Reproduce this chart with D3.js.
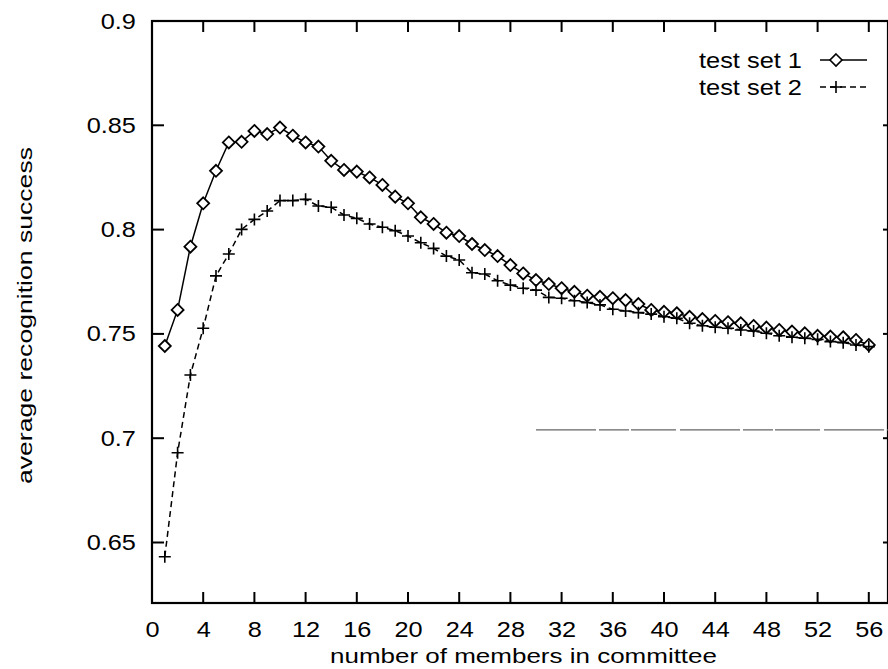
<!DOCTYPE html>
<html>
<script src="https://cdnjs.cloudflare.com/ajax/libs/d3/7.8.5/d3.min.js"></script>
<head>
  <meta charset="UTF-8">
  <title>committee recognition</title>
  <style type="text/css">
    body { margin: 0; background: #fff; }
    svg text { font-family: "Liberation Sans", Arial, Helvetica, sans-serif; fill: #000; }
  </style>
</head>
<body>
<script type="text/javascript">

  //DATA
  var members = d3.range(1, 57); //committee size 1..56

  var testSet1 = [0.7442, 0.7615, 0.7918, 0.8126, 0.8282, 0.8418, 0.8421, 0.8473, 0.8458, 0.8489,
                  0.8450, 0.8418, 0.8398, 0.8330, 0.8286, 0.8278, 0.8250, 0.8214, 0.8158, 0.8126,
                  0.8059, 0.8027, 0.7985, 0.7969, 0.7931, 0.7902, 0.7873, 0.7830, 0.7790, 0.7758,
                  0.7739, 0.7719, 0.7702, 0.7683, 0.7678, 0.7671, 0.7662, 0.7643, 0.7615, 0.7606,
                  0.7599, 0.7582, 0.7571, 0.7562, 0.7556, 0.7551, 0.7538, 0.7530, 0.7519, 0.7511,
                  0.7503, 0.7491, 0.7487, 0.7484, 0.7471, 0.7447];

  var testSet2 = [0.6432, 0.6930, 0.7303, 0.7527, 0.7778, 0.7883, 0.8001, 0.8049, 0.8089, 0.8139,
                  0.8139, 0.8145, 0.8113, 0.8107, 0.8070, 0.8054, 0.8027, 0.8011, 0.7995, 0.7969,
                  0.7937, 0.7910, 0.7873, 0.7854, 0.7793, 0.7787, 0.7755, 0.7734, 0.7719, 0.7710,
                  0.7675, 0.7671, 0.7659, 0.7650, 0.7639, 0.7618, 0.7610, 0.7602, 0.7595, 0.7582,
                  0.7575, 0.7551, 0.7539, 0.7532, 0.7527, 0.7519, 0.7514, 0.7503, 0.7491, 0.7484,
                  0.7479, 0.7474, 0.7463, 0.7458, 0.7447, 0.7439];

  var baseX = [30, 58];
  var baseY = [0.704, 0.704];

  var xTicks = [0, 4, 8, 12, 16, 20, 24, 28, 32, 36, 40, 44, 48, 52, 56];
  var yTicks = [0.65, 0.7, 0.75, 0.8, 0.85, 0.9];
  var seriesNames = ["test set 1", "test set 2"];

  //SVG SIZE AND PLOT BOX ("top" is taken by window, so p-prefixed names)
  var W = 888, H = 669;
  var pLeft = 152, pRight = 888, pTop = 21, pBottom = 603;
  var stretch = "scale(1.15,1)"; //reference font is drawn wider than Liberation Sans

  var x = d3.scaleLinear().domain([0, 57.5]).range([pLeft, pRight]);
  var y = d3.scaleLinear().domain([0.621, 0.9]).range([pBottom, pTop]);

  var svg = d3.select("body").append("svg")
      .attr("width", W)
      .attr("height", H);

  //FRAME
  svg.append("rect")
      .attr("x", pLeft).attr("y", pTop)
      .attr("width", pRight - pLeft).attr("height", pBottom - pTop)
      .attr("fill", "none").attr("stroke", "#000").attr("stroke-width", 2.2);

  //AXES - only the labels come from d3, ticks are drawn inwards below
  var xAxis = d3.axisBottom(x).tickValues(xTicks).tickSize(0).tickPadding(18).tickFormat(d3.format("d"));
  var gx = svg.append("g").attr("transform", "translate(0," + pBottom + ")").call(xAxis);
  gx.select(".domain").remove();
  gx.selectAll("text").style("font-size", "22px").attr("transform", stretch);

  var yAxis = d3.axisLeft(y).tickValues(yTicks).tickSize(0).tickPadding(14)
      .tickFormat(function (d) { return String(+d.toFixed(2)); });
  var gy = svg.append("g").attr("transform", "translate(" + pLeft + ",0)").call(yAxis);
  gy.select(".domain").remove();
  gy.selectAll("text").style("font-size", "22px").attr("transform", stretch);

  var tickLen = 11;
  xTicks.slice(1).forEach(function (t) {
    svg.append("line").attr("x1", x(t)).attr("x2", x(t)).attr("y1", pBottom).attr("y2", pBottom - tickLen)
        .attr("stroke", "#000").attr("stroke-width", 2);
    svg.append("line").attr("x1", x(t)).attr("x2", x(t)).attr("y1", pTop).attr("y2", pTop + tickLen)
        .attr("stroke", "#000").attr("stroke-width", 2);
  });
  yTicks.forEach(function (t) {
    svg.append("line").attr("x1", pLeft).attr("x2", pLeft + 12).attr("y1", y(t)).attr("y2", y(t))
        .attr("stroke", "#000").attr("stroke-width", 2);
    svg.append("line").attr("x1", pRight).attr("x2", pRight - 5).attr("y1", y(t)).attr("y2", y(t))
        .attr("stroke", "#000").attr("stroke-width", 2);
  });

  //AXIS TITLES
  svg.append("text")
      .attr("x", 330).attr("y", 663)
      .attr("textLength", 387).attr("lengthAdjust", "spacingAndGlyphs")
      .style("font-size", "21px")
      .text("number of members in committee");

  svg.append("text")
      .attr("transform", "translate(32,484) rotate(-90)")
      .attr("textLength", 337).attr("lengthAdjust", "spacingAndGlyphs")
      .style("font-size", "21px")
      .text("average recognition success");

  //GREY REFERENCE LINE
  svg.append("line")
      .attr("x1", x(baseX[0])).attr("x2", x(baseX[1]))
      .attr("y1", y(baseY[0])).attr("y2", y(baseY[1]))
      .attr("stroke", "#666").attr("stroke-width", 1.3)
      .attr("stroke-dasharray", "60,3,30,2,45,4");

  //LINES
  var line = d3.line()
      .x(function (d, i) { return x(members[i]); })
      .y(function (d) { return y(d); });

  svg.append("path").attr("d", line(testSet1))
      .attr("fill", "none").attr("stroke", "#000").attr("stroke-width", 1.5);

  svg.append("path").attr("d", line(testSet2))
      .attr("fill", "none").attr("stroke", "#000").attr("stroke-width", 1.5)
      .attr("stroke-dasharray", "6,4");

  //MARKERS
  var diamond = "M0,-6L6,0L0,6L-6,0Z";
  var plus = "M-6,0H6M0,-6V6";

  svg.append("g").selectAll("path").data(testSet1).enter().append("path")
      .attr("transform", function (d, i) { return "translate(" + x(members[i]) + "," + y(d) + ")"; })
      .attr("d", diamond)
      .attr("fill", "#fff").attr("stroke", "#000").attr("stroke-width", 1.8);

  svg.append("g").selectAll("path").data(testSet2).enter().append("path")
      .attr("transform", function (d, i) { return "translate(" + x(members[i]) + "," + y(d) + ")"; })
      .attr("d", plus)
      .attr("fill", "none").attr("stroke", "#000").attr("stroke-width", 1.6);

  //LEGEND
  var legY = [60, 87];
  seriesNames.forEach(function (name, i) {
    svg.append("text")
        .attr("x", 699).attr("y", legY[i] + 8)
        .attr("textLength", 103).attr("lengthAdjust", "spacingAndGlyphs")
        .style("font-size", "22px")
        .text(name);
    svg.append("line")
        .attr("x1", 820).attr("x2", 867).attr("y1", legY[i]).attr("y2", legY[i])
        .attr("stroke", "#000").attr("stroke-width", 1.5)
        .attr("stroke-dasharray", i == 1 ? "6,4" : null);
    svg.append("path")
        .attr("transform", "translate(836," + legY[i] + ")")
        .attr("d", i == 0 ? diamond : plus)
        .attr("fill", i == 0 ? "#fff" : "none")
        .attr("stroke", "#000").attr("stroke-width", 1.6);
  });

</script>
</body>
</html>
